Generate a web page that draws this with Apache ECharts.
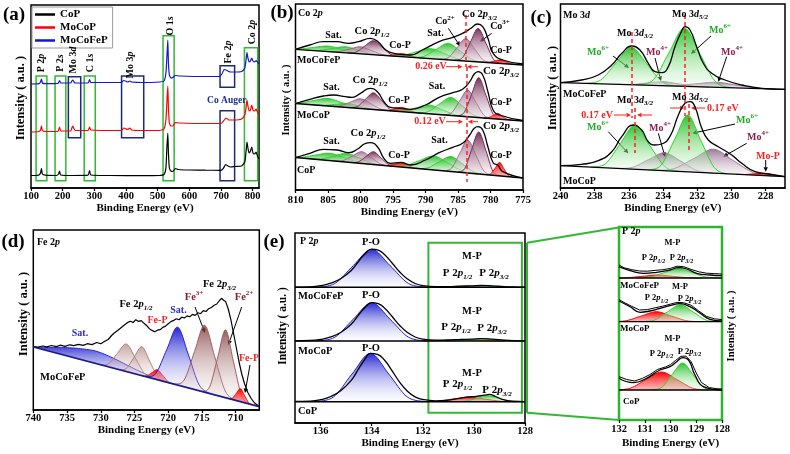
<!DOCTYPE html>
<html><head><meta charset="utf-8">
<script src="https://cdn.jsdelivr.net/npm/echarts@6/dist/echarts.min.js"></script>
<style>html,body{margin:0;padding:0;background:#fff}#c{width:790px;height:454px}</style>
</head><body><div id="c"></div>
<script>
// ---------------- DATA (intensity in arbitrary units) ----------------
// (a) survey spectra [eV, a.u.]
var surveyCoP = [[100,12.5],[115,12.5],[125,13],[130,15],[133,19.5],[136,14],[145,12.8],[180,12.5],[187,14],[190,17],[194,13],[230,12.5],[280,12.8],[285,17.5],[289,13],[350,12.5],[450,12.3],[505,12.5],[520,13.5],[526,20],[529,40],[532,55],[534,35],[537,20],[542,17],[548,16.5],[556,19.5],[565,18.5],[600,18],[650,17.8],[700,17.7],[708,20],[715,23.5],[722,22],[730,21],[745,21.5],[765,22],[775,26],[779,36],[782,46],[785,40],[789,35],[793,37],[797,41],[801,35],[806,34],[811,36],[815,32],[820,29]];
var surveyMoCoP = [[100,56],[125,56.5],[130,58],[133,62],[136,57.5],[145,56.5],[185,56.5],[190,61],[194,57],[225,57],[229,60],[232,62],[236,59],[240,57.5],[280,57.5],[285,61],[289,58],[385,57.5],[393,60],[398,59.5],[405,58.5],[412,60],[418,58],[450,57.5],[505,57.5],[520,59],[526,68],[529,85],[532,102],[534,80],[537,65],[542,62],[548,62],[556,65.5],[570,65],[650,64.5],[700,64.5],[708,67],[716,70],[725,68],[740,68],[765,69],[775,73],[779,80],[782,88],[785,82],[789,77],[793,78],[797,83],[801,78],[806,77],[811,79],[815,76],[820,73]];
var surveyMoCoFeP = [[100,104],[125,104.3],[130,106],[133,109],[136,105],[145,104.3],[185,104.5],[190,107.5],[194,105],[225,105],[229,107],[232,108],[236,106],[240,105],[280,105],[285,108.5],[289,105.5],[385,105.5],[393,107.5],[398,107],[405,106],[412,107],[418,106],[450,105.5],[505,106],[520,107],[526,115],[529,130],[532,148],[534,125],[537,113],[542,110],[548,110.5],[556,112.5],[570,112],[650,111.5],[695,111.5],[703,114],[710,118.5],[716,118],[722,117],[730,116],[745,116],[765,116.5],[775,120],[779,128],[782,135.5],[785,130],[789,126],[793,127],[797,130],[801,127],[806,126],[811,127.5],[815,126],[820,124]];
var surveyTicks = [100,200,300,400,500,600,700,800];

// (b) Co 2p : backgrounds, envelopes, fitted components [eV, height above background]
var co2pTicks = [810,805,800,795,790,785,780,775];
var co2pBaseMoCoFeP = [[810,140.7],[775,125]];
var co2pBaseMoCoP = [[810,86.5],[775,69]];
var co2pBaseCoP = [[810,32.5],[775,12]];
var co2pEnvMoCoFeP = [[810,140.7],[807.8,145],[805.7,148.3],[803.6,148.3],[801.8,146.7],[800.3,148.3],[798.5,151.7],[797.3,148.3],[796.1,140],[794.9,136.7],[792.3,135],[790.5,140],[787.9,148.3],[785.8,152.7],[784.3,156.7],[783,161.7],[782,166],[781.2,163.3],[780.4,151.7],[779.6,136.7],[778.1,130],[775,126]];
var co2pEnvMoCoP = [[810,86.5],[807.8,90.7],[805.7,94],[804.1,95],[802.3,93.3],[801.3,92.7],[800,96.7],[798.5,101.7],[797.4,98.3],[796.4,88.3],[795.4,82.7],[793.8,81.7],[792.3,80.7],[790,85],[787.9,92.7],[785.8,97.3],[784.3,100.7],[783.2,108.3],[782.5,116],[781.9,118.3],[781.2,115],[780.4,98.3],[779.6,80],[778.6,75],[775,69.5]];
var co2pEnvCoP = [[810,32.5],[807.8,36.7],[805.7,40.7],[803.6,40],[801.8,37.3],[800.5,40.7],[799.2,46.7],[798.5,47.3],[797.4,43.3],[796.4,31.7],[795.4,26.7],[793.8,27.7],[792.3,25],[790,30],[787.9,37.3],[785.8,42.7],[784.3,46.7],[783.2,55],[782.5,61.7],[781.9,63.3],[781.2,60],[780.4,43.3],[779.6,27.3],[778.9,25],[778.1,18.3],[775,12]];
var co2pPeaksMoCoFeP = [
 [[798.25,0],[800.5,0.55],[802.75,3.1],[805,5.5],[807.25,3.1],[809.5,0.55],[811.75,0]],
 [[796.2,0],[798.25,0.6],[800.3,3.4],[802.3,6],[804.3,3.4],[806.35,0.6],[808.4,0]],
 [[794.9,0],[796.6,0.7],[798.3,4],[800,7],[801.7,4],[803.4,0.7],[805.1,0]],
 [[794,0],[795.3,1.4],[796.65,8],[798,14],[799.35,8],[800.7,1.4],[802,0]],
 [[790.1,0],[791.25,0.3],[792.4,1.7],[793.5,3],[794.6,1.7],[795.75,0.3],[796.9,0]],
 [[782.45,0],[784.7,1],[786.95,5.7],[789.2,10],[791.45,5.7],[793.7,1],[795.95,0]],
 [[780.8,0],[782.7,1.65],[784.6,9.4],[786.5,16.5],[788.4,9.4],[790.3,1.65],[792.2,0]],
 [[779.75,0],[781.1,2.25],[782.45,12.8],[783.8,22.5],[785.15,12.8],[786.5,2.25],[787.85,0]],
 [[778.25,0],[779.5,3.35],[780.7,19.1],[781.9,33.5],[783.1,19.1],[784.3,3.35],[785.55,0]],
 [[775.8,0],[776.7,0.35],[777.6,2],[778.5,3.5],[779.4,2],[780.3,0.35],[781.2,0]]];
var co2pPeaksMoCoP = [
 [[798.25,0],[800.5,0.75],[802.75,4.3],[805,7.5],[807.25,4.3],[809.5,0.75],[811.75,0]],
 [[796.6,0],[798.4,0.4],[800.2,2.3],[802,4],[803.8,2.3],[805.6,0.4],[807.4,0]],
 [[795.3,0],[796.85,1],[798.4,5.5],[800,9.7],[801.6,5.5],[803.15,1],[804.7,0]],
 [[794.2,0],[795.5,1.7],[796.75,9.5],[798,16.7],[799.25,9.5],[800.5,1.7],[801.8,0]],
 [[790.6,0],[791.6,0.4],[792.6,2.5],[793.6,4.3],[794.6,2.5],[795.6,0.4],[796.6,0]],
 [[783.3,0],[785.35,0.9],[787.4,5],[789.4,8.8],[791.4,5],[793.45,0.9],[795.5,0]],
 [[780.7,0],[782.5,1.8],[784.3,10.3],[786.1,18],[787.9,10.3],[789.7,1.8],[791.5,0]],
 [[779.7,0],[781,2.7],[782.25,15.2],[783.5,26.7],[784.75,15.2],[786,2.7],[787.3,0]],
 [[778.4,0],[779.55,4],[780.7,22.8],[781.8,40],[782.9,22.8],[784.05,4],[785.2,0]],
 [[776.75,0],[777.45,0.6],[778.2,3.2],[778.9,5.7],[779.6,3.2],[780.35,0.6],[781.05,0]]];
var co2pPeaksCoP = [
 [[797.95,0],[800.2,0.7],[802.45,4.2],[804.7,7.3],[806.95,4.2],[809.2,0.7],[811.45,0]],
 [[796,0],[798.05,0.9],[800.1,5],[802.1,8.8],[804.1,5],[806.15,0.9],[808.2,0]],
 [[795.5,0],[796.9,1.2],[798.35,6.7],[799.8,11.8],[801.25,6.7],[802.7,1.2],[804.1,0]],
 [[794.5,0],[795.65,1.3],[796.85,7.3],[798,12.8],[799.15,7.3],[800.35,1.3],[801.5,0]],
 [[790.8,0],[791.8,0.4],[792.8,2.3],[793.8,4],[794.8,2.3],[795.8,0.4],[796.8,0]],
 [[781.95,0],[784.2,1.4],[786.45,8],[788.7,14],[790.95,8],[793.2,1.4],[795.45,0]],
 [[780.7,0],[782.5,1.5],[784.3,8.6],[786.1,15],[787.9,8.6],[789.7,1.5],[791.5,0]],
 [[779.7,0],[781,3.3],[782.25,18.8],[783.5,33],[784.75,18.8],[786,3.3],[787.3,0]],
 [[778.55,0],[779.65,4.2],[780.7,24],[781.8,42],[782.9,24],[783.95,4.2],[785.05,0]],
 [[776.6,0],[777.25,1.35],[777.95,7.7],[778.6,13.5],[779.25,7.7],[779.95,1.35],[780.6,0]]];

// (c) Mo 3d
var mo3dTicks = [240,238,236,234,232,230,228];
var mo3dBaseMoCoFeP = [[240,105.3],[226.86,98.7]];
var mo3dBaseMoCoP = [[240,22.3],[226.86,11.3]];
var mo3dEnvMoCoFeP = [[240,105.3],[238.76,108],[237.79,113],[237,123],[236.41,134.7],[235.83,142],[235.35,138],[234.86,124.7],[234.47,116.3],[234.07,115.3],[233.69,121.3],[233.3,141.3],[232.9,157.3],[232.71,161.3],[232.42,158],[232.03,141.3],[231.64,124.7],[231.15,114.7],[230.37,108],[229.39,103],[228.22,99.7],[226.86,98.7]];
var mo3dEnvMoCoP = [[240,22.3],[238.76,23.7],[237.79,27.3],[237,36.3],[236.42,51.3],[235.74,63],[235.25,58],[234.86,46.3],[234.47,43],[234.08,44],[233.6,51.3],[233.1,73],[232.71,84.7],[232.42,86.3],[232.13,81.3],[231.73,59.7],[231.35,48],[230.76,41.3],[229.98,33],[229.39,24.7],[228.61,16.3],[227.83,14],[226.86,11.3]];
var mo3dPeaksMoCoFeP = [
 [[231.3,0],[232.2,0.4],[233.1,2.3],[234,4],[234.9,2.3],[235.8,0.4],[236.7,0]],
 [[227.4,0],[228.56,0.5],[229.73,2.85],[230.9,5],[232.07,2.85],[233.24,0.5],[234.4,0]],
 [[233.15,0],[234.05,3.8],[234.95,21.4],[235.85,37.5],[236.75,21.4],[237.65,3.8],[238.55,0]],
 [[230.05,0],[230.95,5.8],[231.85,33.2],[232.75,58.3],[233.65,33.2],[234.55,5.8],[235.45,0]]];
var mo3dPeaksMoCoP = [
 [[231.05,0],[232,1.8],[232.95,10.3],[233.9,18],[234.85,10.3],[235.8,1.8],[236.75,0]],
 [[227.55,0],[228.7,2.4],[229.9,13.7],[231.05,24],[232.2,13.7],[233.4,2.4],[234.55,0]],
 [[233.1,0],[233.9,4.4],[234.8,25],[235.65,44],[236.5,25],[237.35,4.4],[238.2,0]],
 [[230.25,0],[231,5.7],[231.8,32.5],[232.55,57],[233.3,32.5],[234.1,5.7],[234.85,0]],
 [[226.5,0],[227,0.25],[227.55,1.4],[228.1,2.5],[228.65,1.4],[229.2,0.25],[229.7,0]]];

// (d) Fe 2p
var fe2pTicks = [740,735,730,725,720,715,710];
var fe2pBase = [[740,63],[706.5,3.3]];
var fe2pEnv = [[740,63.5],[739.3,62.8],[738.6,64],[738,63.2],[737.3,64.5],[736.6,63.4],[736,64.8],[735.3,63.6],[734.6,65.2],[734,64.3],[733.3,65.6],[732.6,64.6],[732,66.3],[731.3,65.4],[730.6,67.5],[730,66.2],[729.4,68.8],[728.9,70.5],[728.4,74.5],[728,77],[727.5,79.5],[727,82.3],[726.5,85],[726,87.6],[725.6,88.8],[725.2,87.5],[724.8,90.3],[724.4,88.6],[724,89.4],[723.6,86.7],[723.2,84.5],[722.8,81.3],[722.4,79.6],[722,78.2],[721.6,79.8],[721.2,80.3],[720.8,82.6],[720.4,83.9],[720,86.2],[719.6,88.4],[719.2,89.6],[718.8,91.3],[718.4,90.2],[718,92.8],[717.6,92],[717.2,94.1],[716.8,93.2],[716.4,95.6],[716,94.6],[715.6,97.2],[715.2,96.3],[714.8,99.4],[714.4,98.5],[714,101.3],[713.6,102.5],[713.2,104.8],[712.8,106],[712.4,109.5],[712.1,111.7],[711.8,109.8],[711.5,108.6],[711.1,101],[710.7,90],[710.3,76],[709.9,62],[709.5,48],[709.1,36],[708.7,26.5],[708.2,17.5],[707.7,11.5],[707.2,7],[706.5,3.5]];
var fe2pPeaks = [
 [[742,0],[739.5,0.5],[737.5,4],[735.5,7.5],[733,10.8],[730.6,12.4],[728.2,10],[725.7,6],[723.7,3],[721.5,0.5],[719.5,0]],
 [[722.15,0],[723.5,2.8],[724.85,15.7],[726.2,27.6],[727.55,15.7],[728.9,2.8],[730.25,0]],
 [[720.4,0],[721.55,2.9],[722.75,16.5],[723.9,29],[725.05,16.5],[726.25,2.9],[727.4,0]],
 [[719.2,0],[720,1],[720.8,5.7],[721.6,10],[722.4,5.7],[723.2,1],[724,0]],
 [[713.75,0],[715.4,5.8],[717,33],[718.6,58],[720.2,33],[721.85,5.8],[723.45,0]],
 [[710,0],[711.55,6.7],[713.1,38],[714.6,67],[716.1,38],[717.65,6.7],[719.2,0]],
 [[708,0],[709.15,6.8],[710.35,38.8],[711.5,68],[712.65,38.8],[713.85,6.8],[715,0]],
 [[707.55,0],[708.1,1.3],[708.7,7.4],[709.3,13],[709.9,7.4],[710.5,1.3],[711.05,0]]];

// (e) P 2p
var p2pTicks = [136,134,132,130,128];
var p2pBaseMoCoFeP = [[137,135.7],[128,135.7]];
var p2pBaseMoCoP = [[137,82],[128,82]];
var p2pBaseCoP = [[137,21.3],[128,21.3]];
var p2pEnvMoCoFeP = [[137,135.9],[136.4,136.2],[136,137.3],[135.6,139.8],[135.2,144.5],[134.8,152.5],[134.5,162],[134.25,169.5],[134,173.8],[133.75,172.8],[133.5,168.5],[133.2,160],[132.9,151],[132.6,144],[132.3,139.5],[132,137.3],[131.5,136.3],[131,136.4],[130.5,136.9],[130.1,137.1],[129.7,137.6],[129.3,137.2],[128.8,136.3],[128.4,136],[128,135.8]];
var p2pEnvMoCoP = [[137,82.2],[136.4,82.5],[136,83.6],[135.6,86.1],[135.2,90.8],[134.8,98.8],[134.5,108.3],[134.25,115.8],[134,120.3],[133.75,119.3],[133.5,115],[133.2,106.5],[132.9,97.5],[132.6,90.5],[132.3,86],[132,83.8],[131.5,82.8],[131,83],[130.5,83.6],[130.1,83.8],[129.7,84.3],[129.3,83.8],[128.8,82.8],[128.4,82.3],[128,82.1]];
var p2pEnvCoP = [[137,21.6],[136.4,21.9],[136,23.3],[135.6,26.5],[135.2,32.5],[134.8,42.6],[134.5,54.7],[134.25,64.2],[134.05,69.7],[133.75,68.4],[133.5,63],[133.2,52.2],[132.9,40.7],[132.6,31.8],[132.3,26.1],[132,23.5],[131.5,22.2],[131.1,22.6],[130.7,24.2],[130.3,25.9],[129.9,26.6],[129.6,27.8],[129.4,28.6],[129.15,26.5],[128.85,23.3],[128.5,21.8],[128,21.4]];
var p2pPeaksMoCoFeP = [
 [[131.84,0],[132.56,3.8],[133.28,21.7],[134,38],[134.72,21.7],[135.44,3.8],[136.16,0]],
 [[128.88,0],[129.42,0.1],[129.96,0.6],[130.5,1],[131.04,0.6],[131.58,0.1],[132.12,0]],
 [[128.2,0],[128.7,0.2],[129.2,1],[129.7,1.8],[130.2,1],[130.7,0.2],[131.2,0]]];
var p2pPeaksMoCoP = [
 [[131.84,0],[132.56,3.8],[133.28,21.8],[134,38.3],[134.72,21.8],[135.44,3.8],[136.16,0]],
 [[128.78,0],[129.32,0.15],[129.86,0.85],[130.4,1.5],[130.94,0.85],[131.48,0.15],[132.02,0]],
 [[128.17,0],[128.67,0.2],[129.16,1.3],[129.65,2.3],[130.15,1.3],[130.64,0.2],[131.14,0]]];
var p2pPeaksCoP = [
 [[131.89,0],[132.61,4.8],[133.33,27.6],[134.05,48.4],[134.77,27.6],[135.49,4.8],[136.21,0]],
 [[128.31,0],[128.94,0.45],[129.57,2.6],[130.2,4.5],[130.83,2.6],[131.46,0.45],[132.09,0]],
 [[128.17,0],[128.6,0.6],[129.02,3.4],[129.45,6],[129.88,3.4],[130.31,0.6],[130.73,0]]];

// (e) zoomed M-P region
var mpTicks = [132,131,130,129,128];
var mpBaseMoCoFeP = [[132,142],[128,142]];
var mpBaseMoCoP = [[132,98.3],[128,98.3]];
var mpBaseCoP = [[132,30],[128,30]];
var mpFitMoCoFeP = [[132,153.3],[131.57,149.3],[131.06,146.7],[130.54,147.7],[130.02,150],[129.7,152.3],[129.37,151],[128.98,146.7],[128.47,145],[128,144.3]];
var mpRawMoCoFeP = [[132,155],[131.8,152.2],[131.5,150.3],[131.2,149],[130.9,148.8],[130.6,149.6],[130.3,150.3],[130,151.6],[129.75,153.8],[129.5,153.4],[129.2,150.6],[128.9,148.2],[128.6,146.8],[128.3,146.4],[128,146]];
var mpFitMoCoP = [[132,119],[131.57,113.3],[131.18,107.7],[130.8,109],[130.41,111.7],[130.02,114.3],[129.63,116.3],[129.24,113.3],[128.85,106.7],[128.47,100.7],[128,99]];
var mpRawMoCoP = [[132,120.5],[131.8,117.5],[131.5,113.6],[131.2,110],[130.9,110.4],[130.6,112.2],[130.3,113.8],[130,115.9],[129.75,117.6],[129.5,117.3],[129.2,114.8],[128.9,109],[128.6,103.6],[128.3,101.2],[128,100.4]];
var mpFitCoP = [[132,41.7],[131.44,37.3],[130.93,41.7],[130.41,50],[130.02,53.3],[129.76,58.3],[129.53,62.3],[129.3,60],[129.05,45],[128.72,33.3],[128,30]];
var mpRawCoP = [[132,43.3],[131.7,40.5],[131.4,39],[131.1,41.5],[130.8,45.4],[130.5,50.6],[130.2,53],[130,55.4],[129.8,59.6],[129.6,63.7],[129.4,63.9],[129.2,58.5],[129,47],[128.8,37.6],[128.5,32.4],[128.2,31.3],[128,31]];
var mpPeaksMoCoFeP = [
 [[128.75,0],[129.33,0.3],[129.92,1.7],[130.5,3],[131.08,1.7],[131.67,0.3],[132.25,0]],
 [[128.08,0],[128.62,1],[129.16,5.4],[129.7,9.5],[130.24,5.4],[130.78,1],[131.32,0]]];
var mpPeaksMoCoP = [
 [[128.8,0],[129.38,1],[129.97,5.7],[130.55,10],[131.13,5.7],[131.72,1],[132.3,0]],
 [[128.13,0],[128.63,1.7],[129.12,9.7],[129.62,17],[130.12,9.7],[130.61,1.7],[131.1,0]]];
var mpPeaksCoP = [
 [[128.53,0],[129.14,1.8],[129.74,10.3],[130.35,18],[130.96,10.3],[131.56,1.8],[132.17,0]],
 [[128.31,0],[128.72,2.7],[129.13,15.4],[129.53,27],[129.94,15.4],[130.34,2.7],[130.75,0]]];

// ---------------- DRAWING ----------------
var FF = '"Liberation Serif","Times New Roman",serif';
var RED = '#ff2020';
var GRN_BOX = '#33b833';
var NAVY_BOX = '#1c2a78';
function grad(t, b) { return new echarts.graphic.LinearGradient(0, 0, 0, 1, [{offset: 0, color: t}, {offset: 1, color: b}]); }
var STY = {
  green:   {stroke: '#2bd42b', top: 'rgba(25,185,25,0.9)',  bot: 'rgba(225,250,225,0.25)'},
  maroon:  {stroke: '#7a2a55', top: 'rgba(105,25,70,0.9)',  bot: 'rgba(235,220,230,0.3)'},
  maroonL: {stroke: '#9a6a88', top: 'rgba(150,95,130,0.8)', bot: 'rgba(238,228,235,0.3)'},
  red:     {stroke: '#ff0000', top: 'rgba(255,0,0,1)',      bot: 'rgba(255,140,140,0.6)'},
  blue:    {stroke: '#2222d8', top: 'rgba(20,20,205,0.92)', bot: 'rgba(240,240,255,0.2)'},
  purple:  {stroke: '#a07898', top: 'rgba(120,70,110,0.72)',bot: 'rgba(238,230,238,0.3)'},
  fe:      {stroke: '#a06060', top: 'rgba(120,50,50,0.78)', bot: 'rgba(245,230,230,0.15)'},
  feL:     {stroke: '#b08080', top: 'rgba(150,90,90,0.55)', bot: 'rgba(245,232,232,0.15)'}
};
function catmull(P, n) {
  var out = [];
  for (var i = 0; i < P.length - 1; i++) {
    var p0 = P[i - 1] || P[i], p1 = P[i], p2 = P[i + 1], p3 = P[i + 2] || P[i + 1];
    for (var k = 0; k < n; k++) {
      var t = k / n, t2 = t * t, t3 = t2 * t, q = [];
      for (var d = 0; d < 2; d++) {
        q.push(0.5 * (2 * p1[d] + (-p0[d] + p2[d]) * t + (2 * p0[d] - 5 * p1[d] + 4 * p2[d] - p3[d]) * t2 + (-p0[d] + 3 * p1[d] - 3 * p2[d] + p3[d]) * t3));
      }
      out.push(q);
    }
  }
  out.push(P[P.length - 1]);
  return out;
}
function baseAt(b, x) { return b[0][1] + (x - b[0][0]) * (b[1][1] - b[0][1]) / (b[1][0] - b[0][0]); }
function peak(ax, base, pts, kind) {
  var s = STY[kind], fill = grad(s.top, s.bot);
  return {
    type: 'custom', xAxisIndex: ax, yAxisIndex: ax, silent: true, clip: true, z: 3,
    data: pts, encode: {x: 0, y: 1},
    renderItem: function (params, api) {
      if (params.dataIndex !== 0) return null;
      var P = pts.map(function (p) { return api.coord([p[0], baseAt(base, p[0]) + p[1]]); });
      var D = catmull(P, 8);
      return {type: 'group', children: [
        {type: 'polygon', shape: {points: D}, style: {fill: fill, stroke: null}},
        {type: 'polyline', shape: {points: D}, style: {stroke: s.stroke, lineWidth: 1, fill: null}}
      ]};
    }
  };
}
function line(ax, data, color, width, smooth, extra) {
  var o = {type: 'line', xAxisIndex: ax, yAxisIndex: ax, data: data, symbol: 'none', smooth: smooth, silent: true,
    lineStyle: {color: color, width: width}, itemStyle: {color: color}, z: 4, clip: true};
  if (extra) for (var k in extra) o[k] = extra[k];
  return o;
}
function xAx(i, min, max, ticks, o) {
  return {type: 'value', gridIndex: i, min: min, max: max, inverse: o.inv !== false,
    axisLine: {show: o.line !== false, onZero: false, lineStyle: {color: '#000', width: 1.5}},
    axisTick: {show: true, inside: false, length: 3, customValues: ticks, lineStyle: {color: '#000', width: 1.2}},
    axisLabel: {customValues: ticks, margin: o.m, fontFamily: FF, fontWeight: 'bold', fontSize: o.fs || 10.5, color: '#000'},
    splitLine: {show: false},
    name: 'Binding Energy (eV)', nameLocation: 'middle', nameGap: o.ng,
    nameTextStyle: {fontFamily: FF, fontWeight: 'bold', fontSize: o.nfs || 11, color: '#000'}};
}
function yAx(i, max, pos) {
  return {type: 'value', gridIndex: i, min: 0, max: max, position: pos || 'left',
    axisLine: {show: false}, axisTick: {show: false}, axisLabel: {show: false}, splitLine: {show: false}};
}
function gridBox(l, t, w, h, color, bw) {
  return {left: l, top: t, width: w, height: h, show: true, borderColor: color || '#000', borderWidth: bw || 1.5,
    backgroundColor: 'rgba(0,0,0,0)', containLabel: false, outerBoundsMode: 'none'};
}

var series = [];
// (a)
series.push(line(0, surveyCoP, '#000', 1.2, 0.2, {name: 'CoP', markArea: {silent: true,
  itemStyle: {color: 'rgba(0,0,0,0)', borderColor: GRN_BOX, borderWidth: 1.5},
  data: [
    [{coord: [116, 7.3]}, {coord: [150, 112]}],
    [{coord: [176, 7.3]}, {coord: [210, 112]}],
    [{coord: [268, 7.3]}, {coord: [303, 112]}],
    [{coord: [517, 7.3]}, {coord: [552, 152.3]}],
    [{coord: [774, 7.3]}, {coord: [816, 140.3]}],
    [{coord: [218, 50.3], itemStyle: {borderColor: NAVY_BOX}}, {coord: [257, 111.3]}],
    [{coord: [386, 50.3], itemStyle: {borderColor: NAVY_BOX}}, {coord: [456, 112]}],
    [{coord: [697, 100.7], itemStyle: {borderColor: NAVY_BOX}}, {coord: [743, 122.3]}],
    [{coord: [697, 7.3], itemStyle: {borderColor: NAVY_BOX}}, {coord: [743, 77.3]}]
  ]}}));
series.push(line(0, surveyMoCoP, '#ff0000', 1.2, 0.2, {name: 'MoCoP'}));
series.push(line(0, surveyMoCoFeP, '#1515d0', 1.2, 0.2, {name: 'MoCoFeP'}));

// (b)
var coKinds = ['green', 'green', 'maroonL', 'maroon', 'red', 'green', 'green', 'maroonL', 'maroon', 'red'];
[[co2pBaseMoCoFeP, co2pEnvMoCoFeP, co2pPeaksMoCoFeP], [co2pBaseMoCoP, co2pEnvMoCoP, co2pPeaksMoCoP], [co2pBaseCoP, co2pEnvCoP, co2pPeaksCoP]].forEach(function (st, si) {
  st[2].forEach(function (pk, k) { series.push(peak(1, st[0], pk, coKinds[k])); });
  series.push(line(1, st[1], '#000', 1.3, true));
  var ex = null;
  if (si === 0) ex = {markLine: {silent: true, symbol: ['none', 'none'], label: {show: false},
    lineStyle: {color: RED, type: [4, 3], width: 1.5},
    data: [[{coord: [783.87, 175]}, {coord: [783.87, 123]}], [{coord: [783.6, 123]}, {coord: [783.6, 8]}]]}};
  series.push(line(1, st[0], '#000', 1.3, false, ex));
});

// (c)
var moKindsA = ['purple', 'purple', 'green', 'green'];
var moKindsB = ['purple', 'purple', 'green', 'green', 'red'];
mo3dPeaksMoCoFeP.forEach(function (pk, k) { series.push(peak(2, mo3dBaseMoCoFeP, pk, moKindsA[k])); });
mo3dPeaksMoCoP.forEach(function (pk, k) { series.push(peak(2, mo3dBaseMoCoP, pk, moKindsB[k])); });
series.push(line(2, mo3dEnvMoCoFeP, '#000', 1.3, true));
series.push(line(2, mo3dEnvMoCoP, '#000', 1.3, true));
series.push(line(2, mo3dBaseMoCoFeP, '#000', 1.3, false, {markLine: {silent: true, symbol: ['none', 'none'], label: {show: false},
  lineStyle: {color: RED, type: [4, 3], width: 1.5},
  data: [[{coord: [235.83, 156]}, {coord: [235.83, 70]}], [{coord: [235.66, 80]}, {coord: [235.66, 35]}],
         [{coord: [232.72, 173]}, {coord: [232.72, 72]}], [{coord: [232.5, 84]}, {coord: [232.5, 35]}]]}}));
series.push(line(2, mo3dBaseMoCoP, '#000', 1.3, false));

// (d)
var feKinds = ['blue', 'feL', 'feL', 'red', 'blue', 'fe', 'fe', 'red'];
fe2pPeaks.forEach(function (pk, k) { series.push(peak(3, fe2pBase, pk, feKinds[k])); });
series.push(line(3, fe2pEnv, '#000', 1.2, false));
series.push(line(3, fe2pBase, '#1a1a8a', 1.8, false));

// (e)
var pKinds = ['blue', 'red', 'green'];
[[p2pBaseMoCoFeP, p2pEnvMoCoFeP, p2pPeaksMoCoFeP], [p2pBaseMoCoP, p2pEnvMoCoP, p2pPeaksMoCoP], [p2pBaseCoP, p2pEnvCoP, p2pPeaksCoP]].forEach(function (st, si) {
  series.push(line(4, st[1], '#000', 1.3, true));
  st[2].forEach(function (pk, k) { series.push(peak(4, st[0], pk, pKinds[k])); });
  var ex = null;
  if (si === 2) ex = {markArea: {silent: true, itemStyle: {color: 'rgba(0,0,0,0)', borderColor: GRN_BOX, borderWidth: 2},
    data: [[{coord: [131.78, 10.3]}, {coord: [128.12, 180.3]}]]}};
  series.push(line(4, st[0], '#000', 1.5, false, ex));
});

// inset
var mKinds = ['red', 'green'];
[[mpBaseMoCoFeP, mpFitMoCoFeP, mpRawMoCoFeP, mpPeaksMoCoFeP], [mpBaseMoCoP, mpFitMoCoP, mpRawMoCoP, mpPeaksMoCoP], [mpBaseCoP, mpFitCoP, mpRawCoP, mpPeaksCoP]].forEach(function (st) {
  st[3].forEach(function (pk, k) { series.push(peak(5, st[0], pk, mKinds[k])); });
  series.push(line(5, st[2], '#000', 1, false));
  series.push(line(5, st[1], '#000', 1.3, true));
  series.push(line(5, st[0], '#000', 1.3, false));
});

// ---------------- annotations ----------------
function rich(color, fs) {
  return {
    i: {fontFamily: FF, fontWeight: 'bold', fontStyle: 'italic', fontSize: fs, lineHeight: fs + 4, fill: color},
    s: {fontFamily: FF, fontWeight: 'bold', fontStyle: 'italic', fontSize: Math.round(fs * 0.68), lineHeight: Math.round(fs * 0.7), verticalAlign: 'bottom', fill: color},
    u: {fontFamily: FF, fontWeight: 'bold', fontSize: Math.round(fs * 0.68), lineHeight: Math.round(fs * 0.7), verticalAlign: 'top', fill: color}
  };
}
function T(x, y, text, o) {
  o = o || {};
  var fs = o.fs || 10, color = o.c || '#000';
  return {type: 'text', x: x, y: y, z: 100, rotation: o.rot || 0, silent: true,
    style: {text: text, fontFamily: FF, fontWeight: 'bold', fontSize: fs, lineHeight: fs + 4, fill: color,
      align: o.al || 'center', verticalAlign: 'middle', rich: rich(color, fs)}};
}
function A(x1, y1, x2, y2, color) {
  var a = Math.atan2(y2 - y1, x2 - x1), L = 4.5, W = 2.2;
  var bx = x2 - L * Math.cos(a), by = y2 - L * Math.sin(a);
  return {type: 'group', z: 100, silent: true, children: [
    {type: 'line', shape: {x1: x1, y1: y1, x2: bx, y2: by}, style: {stroke: color, lineWidth: 1}},
    {type: 'polygon', shape: {points: [[x2, y2], [bx + W * Math.sin(a), by - W * Math.cos(a)], [bx - W * Math.sin(a), by + W * Math.cos(a)]]}, style: {fill: color}}
  ]};
}
function L(x1, y1, x2, y2, color, w) {
  return {type: 'line', z: 90, silent: true, shape: {x1: x1, y1: y1, x2: x2, y2: y2}, style: {stroke: color, lineWidth: w}};
}
var R = Math.PI / 2, GT = '#22aa22', MR = '#8b1f4f', BL = '#2a2ad0', FM = '#8b1a2a';
var YN = 'Intensity ( a.u. )';
var els = [
  // axis titles (intensity)
  T(21, 98, YN, {rot: R, fs: 12.5}), T(286.7, 100, YN, {rot: R, fs: 10.5}), T(553, 88, YN, {rot: R, fs: 12.5}),
  T(24, 314, YN, {rot: R, fs: 12.5}), T(283.5, 326, YN, {rot: R, fs: 11.5}), T(731.5, 326, YN, {rot: R, fs: 10.5}),
  // (a)
  T(14, 15, '(a)', {fs: 19}),
  T(41, 63, 'P 2{i|p}', {rot: R}), T(60, 63, 'P 2{i|s}', {rot: R}), T(73, 60, 'Mo 3{i|d}', {rot: R}),
  T(90, 63, 'C 1{i|s}', {rot: R}), T(130, 65, 'Mo 3{i|p}', {rot: R}), T(170, 26, 'O 1{i|s}', {rot: R}),
  T(228, 52, 'Fe 2{i|p}', {rot: R}), T(252, 32, 'Co 2{i|p}', {rot: R}),
  T(226.7, 100.7, 'Co Auger', {c: '#1c2a9a', fs: 9.5}),
  // (b)
  T(282, 13, '(b)', {fs: 19}), T(298, 13, 'Co 2{i|p}', {al: 'left'}),
  T(333.5, 35, 'Sat.'), T(372, 31, 'Co 2{i|p}{s|1/2}', {fs: 10.5}), T(400, 45, 'Co-P'), T(435.5, 33, 'Sat.'),
  T(445, 21.7, 'Co{u|2+}'), T(479.5, 14, 'Co 2{i|p}{s|3/2}', {fs: 10.5}), T(500, 26, 'Co{u|3+}'), T(501, 50, 'Co-P'),
  T(297, 60.7, 'MoCoFeP', {al: 'left'}),
  A(448.3, 28.3, 460, 46, '#000'), A(491.7, 33.3, 480, 41.7, '#000'),
  T(431, 66.7, '0.26 eV', {c: RED}), A(446, 66.7, 462.5, 66.7, RED), A(478, 66.7, 467, 66.7, RED),
  T(501, 70.7, 'Co 2{i|p}{s|3/2}', {fs: 11}),
  T(331.5, 87.3, 'Sat.'), T(370, 80, 'Co 2{i|p}{s|1/2}', {fs: 10.5}), T(399, 100, 'Co-P'), T(437, 86, 'Sat.'),
  T(501, 102.7, 'Co-P'), T(297, 115, 'MoCoP', {al: 'left'}),
  T(430, 121.7, '0.12 eV', {c: RED}), A(446, 121.7, 463, 121.7, RED), A(478, 121.7, 468, 121.7, RED),
  T(501, 126, 'Co 2{i|p}{s|3/2}', {fs: 11}),
  T(331.5, 141.7, 'Sat.'), T(368, 133, 'Co 2{i|p}{s|1/2}', {fs: 10.5}), T(399, 155, 'Co-P'), T(439.5, 140, 'Sat.'),
  T(501, 155, 'Co-P'), T(297, 170, 'CoP', {al: 'left'}),
  // (c)
  T(541, 18, '(c)', {fs: 19}), T(563, 15, 'Mo 3{i|d}', {al: 'left'}),
  T(635, 33, 'Mo 3{i|d}{s|3/2}'), T(690, 14, 'Mo 3{i|d}{s|5/2}'),
  T(598, 52, 'Mo{u|6+}', {c: GT}), A(613, 56, 629, 68, '#000'),
  T(657, 52, 'Mo{u|4+}', {c: MR}), A(655, 58, 661, 81, '#000'),
  T(720, 30, 'Mo{u|6+}', {c: GT}), A(711, 36, 691, 54, '#000'),
  T(732, 52, 'Mo{u|4+}', {c: MR}), A(726.7, 56.7, 718.3, 81.7, '#000'),
  T(563, 94, 'MoCoFeP', {al: 'left'}),
  T(635, 100, 'Mo 3{i|d}{s|3/2}'), T(690, 97, 'Mo 3{i|d}{s|5/2}'),
  T(613, 115, '0.17 eV', {c: RED, al: 'right'}), A(614, 115, 631, 115, RED), A(652, 115, 637, 115, RED),
  T(707, 108, '0.17 eV', {c: RED, al: 'left'}), A(670, 108, 684.5, 108, RED), A(705, 108, 691, 108, RED),
  T(598, 127, 'Mo{u|6+}', {c: GT}), A(608.3, 131.7, 628.3, 153.3, '#000'),
  T(660, 128, 'Mo{u|4+}', {c: MR}), A(658.3, 133.3, 665, 156.7, '#000'),
  T(747, 120, 'Mo{u|6+}', {c: GT}), A(735, 124, 692.3, 133.3, '#000'),
  T(758, 137, 'Mo{u|4+}', {c: MR}), A(746.7, 143.3, 723.3, 156.7, '#000'),
  T(768, 156, 'Mo-P', {c: RED}), A(765.7, 160, 765.7, 171.7, '#000'),
  T(563, 181, 'MoCoP', {al: 'left'}),
  // (d)
  T(13, 242, '(d)', {fs: 19}), T(37, 242, 'Fe 2{i|p}', {al: 'left'}),
  T(80, 333, 'Sat.', {c: BL}), T(136, 304, 'Fe 2{i|p}{s|1/2}', {fs: 10.5}), T(157.5, 320.7, 'Fe-P', {c: RED}),
  T(178.5, 310, 'Sat.', {c: BL}), T(194, 297, 'Fe{u|3+}', {c: FM, fs: 10.5}), A(195, 307, 205, 333, '#000'),
  T(219.5, 284, 'Fe 2{i|p}{s|3/2}', {fs: 10.5}), T(244, 297, 'Fe{u|2+}', {c: FM, fs: 10.5}), A(241.7, 307, 228.3, 345, '#000'),
  T(249, 358, 'Fe-P', {c: RED}), A(250, 365, 245, 393, '#000'),
  T(40, 377, 'MoCoFeP', {al: 'left', fs: 10.5}),
  // (e)
  T(274, 242, '(e)', {fs: 19}), T(300, 241.7, 'P 2{i|p}', {al: 'left'}),
  T(371, 242.7, 'P-O', {fs: 10.5}), T(371, 295, 'P-O', {fs: 10.5}), T(371, 348.3, 'P-O', {fs: 10.5}),
  T(298, 296.7, 'MoCoFeP', {al: 'left', fs: 10.5}), T(298, 351.7, 'MoCoP', {al: 'left', fs: 10.5}), T(298, 411.7, 'CoP', {al: 'left', fs: 10.5}),
  T(472, 256.7, 'M-P', {fs: 10.5}), T(457.5, 273.3, 'P 2{i|p}{s|1/2}', {fs: 11}), T(494, 273.3, 'P 2{i|p}{s|3/2}', {fs: 11}),
  T(472, 311.7, 'M-P', {fs: 10.5}), T(456, 327.3, 'P 2{i|p}{s|1/2}', {fs: 11}), T(492, 328.3, 'P 2{i|p}{s|3/2}', {fs: 11}),
  T(472, 373.3, 'M-P', {fs: 10.5}), T(457.5, 384, 'P 2{i|p}{s|1/2}', {fs: 11}), T(497, 390, 'P 2{i|p}{s|3/2}', {fs: 11}),
  L(527, 242.7, 619, 227.5, GRN_BOX, 2), L(527, 412.7, 619, 420, GRN_BOX, 2), L(527, 242.7, 527, 412.7, GRN_BOX, 2),
  // inset
  T(622, 231.7, 'P 2{i|p}', {al: 'left'}),
  T(672.5, 243, 'M-P', {fs: 8.5}), T(653.5, 258, 'P 2{i|p}{s|1/2}', {fs: 8.5}), T(681.5, 258, 'P 2{i|p}{s|3/2}', {fs: 8.5}),
  T(620, 285.7, 'MoCoFeP', {al: 'left', fs: 9}),
  T(680, 286.7, 'M-P', {fs: 8.5}), T(656.5, 298, 'P 2{i|p}{s|1/2}', {fs: 8.5}), T(689.5, 299, 'P 2{i|p}{s|3/2}', {fs: 8.5}),
  T(620, 328.3, 'MoCoP', {al: 'left', fs: 9}),
  T(672.5, 338.3, 'M-P', {fs: 8.5}), T(661.5, 353.3, 'P 2{i|p}{s|1/2}', {fs: 8.5}), T(689.5, 351.7, 'P 2{i|p}{s|3/2}', {fs: 8.5}),
  T(623, 401.7, 'CoP', {al: 'left', fs: 9})
];

var option = {
  animation: false, backgroundColor: '#fff', textStyle: {fontFamily: FF},
  legend: {data: ['CoP', 'MoCoP', 'MoCoFeP'], left: 32, top: 7, orient: 'vertical', icon: 'rect', itemWidth: 20, itemHeight: 2.5, itemGap: 2,
    padding: [2, 5, 2, 3], borderColor: '#999', borderWidth: 1, backgroundColor: '#fff', selectedMode: false,
    textStyle: {fontFamily: FF, fontWeight: 'bold', fontSize: 11, color: '#000'}},
  grid: [
    gridBox(31, 5, 228, 183),
    gridBox(295.5, 4, 227.5, 186),
    gridBox(560.5, 4, 224.5, 184),
    gridBox(33.3, 230, 226, 180),
    gridBox(295, 233, 230, 190),
    gridBox(619, 227, 103, 193, '#2db52d', 2.5)
  ],
  xAxis: [
    xAx(0, 100, 820, surveyTicks, {m: 3, ng: 15, inv: false}),
    xAx(1, 775, 810, co2pTicks, {m: 5, ng: 16}),
    xAx(2, 226.86, 240, mo3dTicks, {m: 3, ng: 14}),
    xAx(3, 706.5, 740, fe2pTicks, {m: 3, ng: 15}),
    xAx(4, 128, 137, p2pTicks, {m: 3, ng: 14}),
    xAx(5, 128, 132, mpTicks, {m: 4, ng: 18, line: false})
  ],
  yAxis: [yAx(0, 183), yAx(1, 186), yAx(2, 184), yAx(3, 180), yAx(4, 190), yAx(5, 193, 'right')],
  series: series,
  graphic: {elements: els}
};
var chart = echarts.init(document.getElementById('c'), null, {renderer: 'canvas'});
chart.setOption(option);
</script></body></html>
